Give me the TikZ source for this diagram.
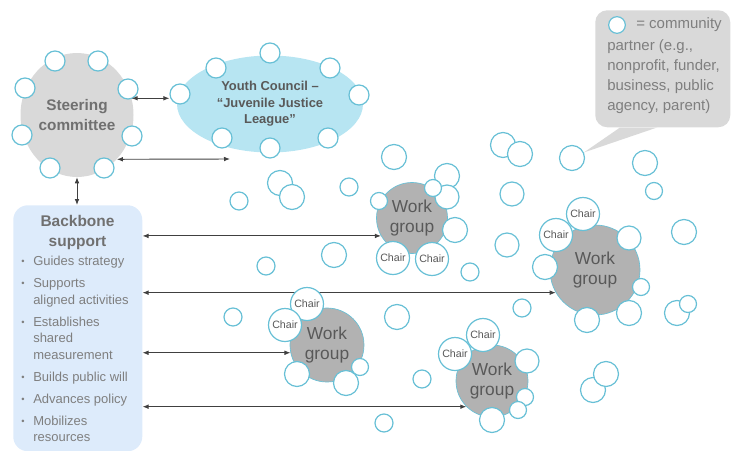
\documentclass[tikz,border=0pt]{standalone}
\usepackage{fontspec}
\setmainfont{Liberation Sans}
\usetikzlibrary{arrows.meta,shapes.geometric}
\definecolor{ring}{RGB}{104,192,214}
\definecolor{steergray}{RGB}{217,217,217}
\definecolor{groupgray}{RGB}{178,178,178}
\definecolor{youthblue}{RGB}{183,229,242}
\definecolor{backblue}{RGB}{221,235,251}
\definecolor{headgray}{RGB}{89,89,89}
\definecolor{softgray}{RGB}{112,112,112}
\definecolor{bodygray}{RGB}{127,127,127}
\tikzstyle{partner} = [circle, inner sep=0pt, draw=ring, fill=white, line width=.9pt]
\tikzstyle{chair} = [partner, minimum size=24.75pt, font=\fontsize{8}{9}\selectfont, text=headgray]
\tikzstyle{group} = [circle, inner sep=0pt, fill=groupgray, draw=ring, line width=.5pt, align=center, text=headgray, font=\fontsize{13}{15.5}\selectfont]
\tikzstyle{link} = [{Latex[length=4.5pt,width=3.5pt]}-{Latex[length=4.5pt,width=3.5pt]}, line width=.7pt, draw=black!75]
\newcommand{\bul}{\makebox[9pt][l]{\fontsize{7}{7}\selectfont\raisebox{.8pt}{•}}}

\begin{document}
\begin{tikzpicture}[x=.75pt, y=-.75pt]
\useasboundingbox (0,0) rectangle (732,450);

\node [ellipse, inner sep=0pt, fill=steergray, minimum width=84.75pt, minimum height=93pt,
	align=center, text=softgray, font=\bfseries\fontsize{11.5}{15}\selectfont] (steer) at (77,115) {Steering\\committee};
\node [ellipse, inner sep=0pt, fill=youthblue, minimum width=139.5pt, minimum height=72.75pt,
	align=center, text=headgray, font=\bfseries\fontsize{9.7}{12.5}\selectfont] (youth) at (270,104) {Youth Council –\\“Juvenile Justice\\League”};
\node [rectangle, rounded corners=11pt, fill=backblue, minimum width=96.75pt, minimum height=184.5pt,
	anchor=north west] (bb) at (13,205) {};
\node [align=center, text=softgray, font=\bfseries\fontsize{11.6}{15}\selectfont] (bbhead) at (77.5,232) {Backbone\\support};
\node [anchor=north west, inner sep=0pt, align=left, text=bodygray, font=\fontsize{9.75}{12.4}\selectfont] (tasks) at (21,256) {%
	\bul Guides strategy\\[4.1pt]
	\bul Supports\\
	\hspace*{9pt}aligned activities\\[4.1pt]
	\bul Establishes\\
	\hspace*{9pt}shared\\
	\hspace*{9pt}measurement\\[4.1pt]
	\bul Builds public will\\[4.1pt]
	\bul Advances policy\\[4.1pt]
	\bul Mobilizes\\
	\hspace*{9pt}resources};

\node [rectangle, rounded corners=9pt, fill=steergray, minimum width=101.25pt, minimum height=87.75pt,
	anchor=north west] (note) at (595,10) {};
\node [anchor=north west, inner sep=0pt, align=left, text=bodygray, font=\fontsize{11.25}{15}\selectfont] (notetext) at (607,17) {%
	\hspace*{21.75pt}= community\\[2pt]
	partner (e.g.,\\
	nonprofit, funder,\\
	business, public\\
	agency, parent)};
\node [partner, minimum size=12.5pt] (key) at (617,25) {};

\node [group, minimum size=53.25pt] (wg1) at (412,218) {Work\\group};
\node [group, minimum size=67.5pt] (wg2) at (595,270) {Work\\group};
\node [group, minimum size=55.5pt] (wg3) at (327,345) {Work\\group};
\node [group, minimum size=54pt] (wg4) at (492,381) {Work\\group};

\foreach \x/\y [count=\i] in {55/61, 98/61, 25/88, 128/89, 22/135, 132/136, 50/168, 104/168}
	\node [partner, minimum size=15pt] (s\i) at (\x,\y) {};
\foreach \x/\y [count=\i] in {180/94, 216/68, 270/53, 330/68, 359/95, 222/138, 270/148, 328/138}
	\node [partner, minimum size=15pt] (y\i) at (\x,\y) {};

\coordinate (open) at (230,159);
\draw [link] (steer.17) -- (steer.17 -| y1.west);
\draw [link] (steer.-48) -- (open);
\draw [link] (steer.south) -- (steer.south |- bb.north);
\draw [link] (wg1.210 -| bb.east) -- (wg1.210);
\draw [link] (wg2.210 -| bb.east) -- (wg2.210);
\draw [link] (wg3.192 -| bb.east) -- (wg3.192);
\draw [link] (wg4.225 -| bb.east) -- (wg4.225);

\node [partner, minimum size=18.75pt] (cp) at (572,158) {};
\fill [steergray] ([xshift=18.75pt]note.south west) -- (cp.25) -- ([xshift=46.5pt]note.south west) -- cycle;

\foreach \x/\y/\d [count=\i] in {394/157/25, 280/183/25, 292/197/25, 239/201/18, 349/187/18,
		334/255/25, 266/266/18, 470/272/18, 379/201/17, 447/176/25, 447/197/24, 433/188/17, 455/230/25,
		503/145/25, 520/154/25, 645/163/25, 654/191/17, 512/194/24, 507/245/24, 629/238/24, 684/232/25,
		545/267/25, 641/287/17, 522/308/18, 587/320/25, 629/313/25, 677/313/25, 688/304/17,
		233/317/18, 297/374/25, 346/383/25, 360/367/17, 397/317/25, 422/379/18, 384/423/18,
		527/361/24, 593/390/25, 606/374/25, 492/420/25, 525/397/17, 518/410/17}
	\node [partner, minimum size=\d*.75pt] (p\i) at (\x,\y) {};

\foreach \x/\y [count=\i] in {393/258, 432/259, 583/214, 556/235, 307/304, 285/325, 483/335, 455/354}
	\node [chair] (c\i) at (\x,\y) {Chair};
\end{tikzpicture}
\end{document}
